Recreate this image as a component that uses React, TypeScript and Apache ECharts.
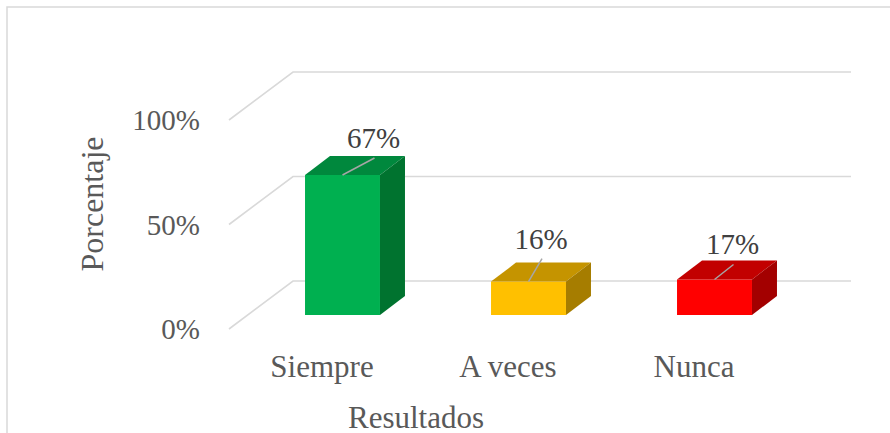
import React, { useEffect, useRef } from "react";
import * as echarts from "echarts";

const categories = ["Siempre", "A veces", "Nunca"];
const values = [67, 16, 17];
const yTicks = [0, 50, 100];
const frontColors = ["#00B050", "#FFC000", "#FF0000"];
const topColors = ["#00883D", "#C59400", "#C20000"];
const sideColors = ["#00732F", "#A67D00", "#A30000"];
// label offsets (style) relative to bar front-top centre
const labelOffsets = [
  [31, -37],
  [12.5, -43],
  [18, -35],
];

const FONT = "Liberation Serif";
const TEXT = "#595959";
const GRID = "#D9D9D9";

// oblique projection parameters
const DX = 64;
const DY = -48;
const FX = 20.5;
const FY = -14;
const BDX = 25;
const BDY = -19;

export default function App() {
  const ref = useRef<HTMLDivElement>(null);

  useEffect(() => {
    if (!ref.current) return;
    const chart = echarts.init(ref.current, null, { renderer: "svg" });

    const wallRender = (params: any, api: any) => {
      const cs = params.coordSys;
      const y = api.coord([0, api.value(1)])[1];
      const x0 = cs.x;
      return {
        type: "polyline",
        shape: {
          points: [
            [x0, y],
            [x0 + DX, y + DY],
            [x0 + cs.width + DX, y + DY],
          ],
        },
        style: { stroke: GRID, lineWidth: 1.6, fill: "none" },
        silent: true,
      };
    };

    const barRender = (params: any, api: any) => {
      const i = api.value(0);
      const v = api.value(1);
      const base = api.coord([i, 0]);
      const top = api.coord([i, v]);
      const bw = api.size([1, 0])[0] * 0.403;
      const cx = base[0] + FX;
      const yb = base[1] + FY;
      const yt = top[1] + FY;
      const xl = cx - bw / 2;
      const xr = cx + bw / 2;
      const off = labelOffsets[i];
      const lx = cx + off[0];
      const ly = yt + off[1];
      return {
        type: "group",
        children: [
          {
            type: "rect",
            shape: { x: xl, y: yt, width: bw, height: yb - yt },
            style: { fill: frontColors[i] },
          },
          {
            type: "polygon",
            shape: {
              points: [
                [xl, yt],
                [xr, yt],
                [xr + BDX, yt + BDY],
                [xl + BDX, yt + BDY],
              ],
            },
            style: { fill: topColors[i] },
          },
          {
            type: "polygon",
            shape: {
              points: [
                [xr, yt],
                [xr + BDX, yt + BDY],
                [xr + BDX, yb + BDY],
                [xr, yb],
              ],
            },
            style: { fill: sideColors[i] },
          },
          {
            type: "line",
            shape: { x1: cx, y1: yt, x2: lx + 1, y2: ly + 20 },
            style: { stroke: "#A6A6A6", lineWidth: 1.5 },
          },
          {
            type: "text",
            style: {
              text: v + "%",
              x: lx,
              y: ly,
              align: "center",
              verticalAlign: "middle",
              fontFamily: FONT,
              fontSize: 29,
              fill: "#404040",
            },
          },
        ],
      };
    };

    chart.setOption({
      animation: false,
      backgroundColor: "#ffffff",
      grid: { left: 229, top: 120, width: 558, height: 209 },
      xAxis: {
        type: "category",
        data: categories,
        axisLine: { show: false },
        axisTick: { show: false },
        splitLine: { show: false },
        axisLabel: {
          fontFamily: FONT,
          fontSize: 31,
          color: TEXT,
          margin: 22,
        },
      },
      yAxis: {
        type: "value",
        min: 0,
        max: 100,
        interval: 50,
        axisLine: { show: false },
        axisTick: { show: false },
        splitLine: { show: false },
        axisLabel: {
          formatter: "{value}%",
          fontFamily: FONT,
          fontSize: 29,
          color: TEXT,
          margin: 29,
        },
      },
      graphic: [
        {
          type: "rect",
          shape: { x: 7, y: 7, width: 1000, height: 1000 },
          style: { fill: "none", stroke: GRID, lineWidth: 1.5 },
          silent: true,
          z: -10,
        },
        {
          type: "text",
          x: 92,
          y: 204,
          rotation: Math.PI / 2,
          style: {
            text: "Porcentaje",
            align: "center",
            verticalAlign: "middle",
            fontFamily: FONT,
            fontSize: 32,
            fill: TEXT,
          },
        },
        {
          type: "text",
          x: 416,
          y: 417,
          style: {
            text: "Resultados",
            align: "center",
            verticalAlign: "middle",
            fontFamily: FONT,
            fontSize: 31,
            fill: TEXT,
          },
        },
      ],
      series: [
        {
          type: "custom",
          renderItem: wallRender,
          data: yTicks.map((v) => [0, v]),
          clip: false,
          silent: true,
          z: 1,
        },
        {
          type: "custom",
          renderItem: barRender,
          data: values.map((v, i) => [i, v]),
          clip: false,
          z: 2,
        },
      ],
    });

    return () => chart.dispose();
  }, []);

  return (
    <div
      ref={ref}
      style={{ position: "fixed", left: 0, top: 0, width: 890, height: 433, background: "#fff" }}
    />
  );
}
